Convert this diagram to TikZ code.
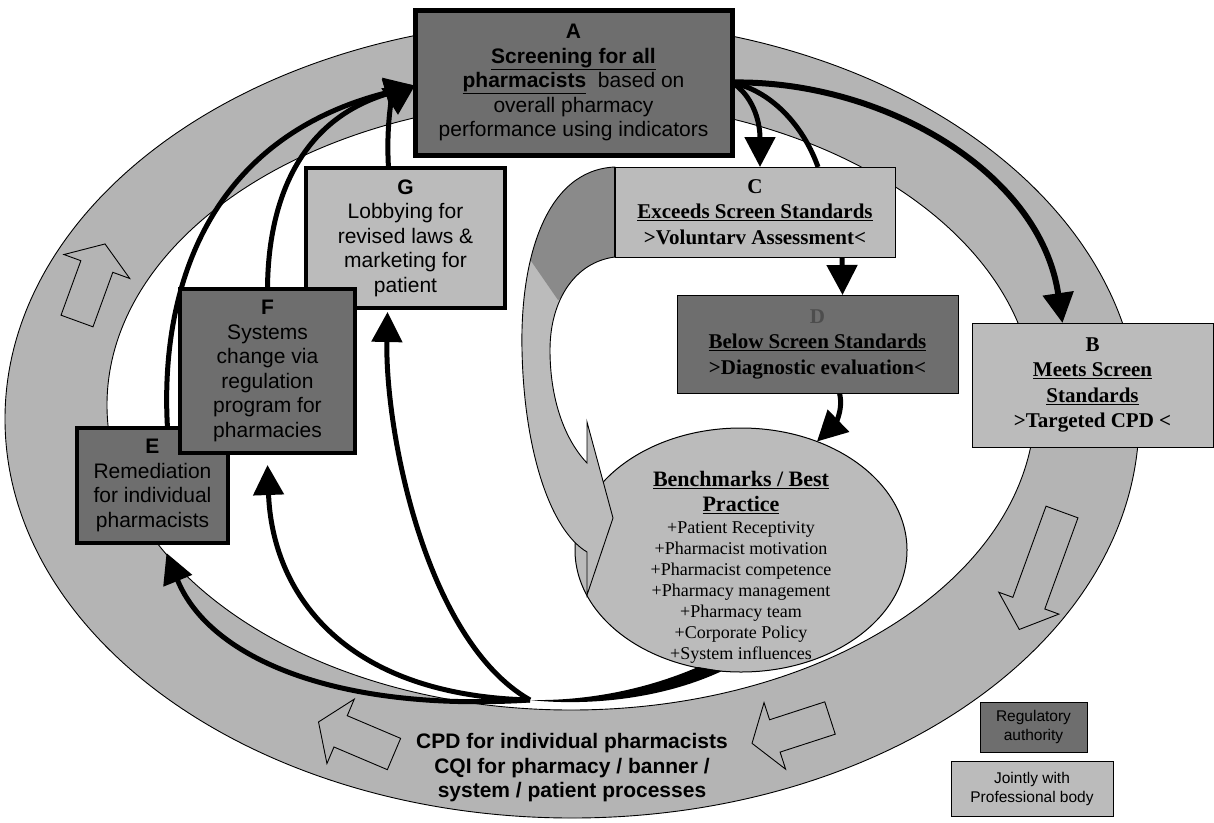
\documentclass[tikz,border=0pt]{standalone}
\usepackage{fontspec}
\setmainfont{Liberation Sans}
\newfontfamily\srf{Liberation Serif}
\usetikzlibrary{arrows.meta,calc,shapes.geometric}
\definecolor{ringgray}{HTML}{B4B4B4}
\definecolor{lightbox}{HTML}{BBBBBB}
\definecolor{darkbox}{HTML}{6E6E6E}
\definecolor{curldark}{HTML}{8A8A8A}
\definecolor{dletter}{HTML}{4D4D4D}
\newcommand\curlpath{(615,167) .. controls (545,170) and (520,260) .. (522,350) .. controls (524,450) and (550,530) .. (587,552) -- (587,595) -- (613,518) -- (587,422) -- (587,463) .. controls (565,440) and (550,400) .. (550,350) .. controls (550,300) and (575,262) .. (615,257) -- cycle}
\begin{document}
\begin{tikzpicture}[x=1pt,y=-1pt,
 every node/.style={inner sep=0pt, outer sep=0pt},
 darkb/.style={draw=black, fill=darkbox, rectangle, align=center},
 lightb/.style={draw=black, fill=lightbox, rectangle, align=center},
 sansbox/.style={font=\fontsize{21}{24.5}\selectfont},
 serifbox/.style={font=\srf\bfseries\fontsize{21}{25.5}\selectfont},
 conn/.style={line width=5pt, -{Triangle[length=30pt,width=30pt]}},
 plainline/.style={line width=5pt},
 ringarrow/.style={draw=black, line width=0.9pt, line join=miter},
 abox/.style={rectangle, line width=5pt, minimum width=317pt, minimum height=145pt}
]
\useasboundingbox (0,0) rectangle (1214,822);

% ring
\fill[ringgray, even odd rule] (572,419) ellipse [x radius=567pt, y radius=399pt] (571,405) ellipse [x radius=464pt, y radius=305pt];
\draw[line width=0.9pt] (572,419) ellipse [x radius=567pt, y radius=399pt];
\draw[line width=0.9pt] (571,405) ellipse [x radius=464pt, y radius=305pt];

% hollow arrows in the ring
\begin{scope}[shift={(77,321)}, rotate=70]
\draw[ringarrow] (0,-17) -- (58,-17) -- (58,-35) -- (82,0) -- (58,35) -- (58,17) -- (0,17) -- cycle;
\end{scope}
\begin{scope}[shift={(1062,512)}, rotate=-110]
\draw[ringarrow] (0,-17) -- (97,-17) -- (97,-32) -- (125,0) -- (97,32) -- (97,17) -- (0,17) -- cycle;
\end{scope}
\begin{scope}[shift={(394,754)}, rotate=157]
\draw[ringarrow] (0,-17) -- (58,-17) -- (58,-35) -- (82,0) -- (58,35) -- (58,17) -- (0,17) -- cycle;
\end{scope}
\begin{scope}[shift={(830,718)}, rotate=198]
\draw[ringarrow] (0,-17) -- (58,-17) -- (58,-35) -- (82,0) -- (58,35) -- (58,17) -- (0,17) -- cycle;
\end{scope}

% placement of A (box drawn later, on top of its connectors)
\path node[abox] (A) at (573.5,82.5) {};
\coordinate (J) at (530,700);

% benchmark ellipse
\node[ellipse, draw=black, line width=1pt, fill=lightbox, minimum width=332pt, minimum height=244pt] (bm) at (741,550) {};

% curved gray arrow from C
\fill[lightbox] \curlpath;
\begin{scope}
\clip \curlpath;
\fill[curldark] (500,150) -- (640,150) -- (640,258) -- (558,300) -- (520,245) -- cycle;
\end{scope}
\draw[line width=0.9pt, line join=miter] \curlpath;

% benchmark text
\node[align=center, font=\srf\fontsize{18}{21}\selectfont, anchor=north] (bmt) at (741,471)
 {{\bfseries\fontsize{22}{26}\selectfont\underline{Benchmarks / Best}}\\[4pt]
  {\bfseries\fontsize{22}{26}\selectfont\underline{Practice}}\\[1pt]
  +Patient Receptivity\\+Pharmacist motivation\\+Pharmacist competence\\+Pharmacy management\\+Pharmacy team\\+Corporate Policy\\+System influences};

% right boxes positions for connectors
\path node[rectangle, minimum width=280pt, minimum height=90pt] (C) at (755,212) {}
      node[rectangle, minimum width=281pt, minimum height=98pt] (D) at (817.5,344) {}
      node[rectangle, minimum width=241pt, minimum height=124pt] (B) at (1092.5,385) {};

% connectors (drawn under the boxes)
\draw[conn] (A.east) .. controls (752,95) and (760,120) .. ($(C.north)+(5,0)$);
\draw[plainline] ($(C.north)+(63,0)$) .. controls (805,130) and (775,92) .. (A.east);
\draw[conn, line width=6pt] (A.east) .. controls (880,80) and (1040,170) .. ($(B.north)+(-30,0)$);

\draw[conn] ($(C.south)+(87,0)$) -- ($(D.north)+(25,0)$);
\draw[conn] ($(D.south)+(22,0)$) .. controls (844,412) and (833,426) .. (bm.55);

\fill ($(bm.south)+(-43,-5)$) .. controls (640,692) and (580,701) .. (J) .. controls (585,706) and (660,700) .. ($(bm.south)+(-19,-1)$) -- cycle;

\path node[rectangle, minimum width=199pt, minimum height=140pt] (G) at (405.5,238) {}
      node[rectangle, minimum width=151pt, minimum height=115pt] (E) at (152.5,485.5) {}
      node[rectangle, minimum width=175pt, minimum height=164pt] (F) at (267.5,371) {};

\draw[conn] (J) .. controls (340,712) and (210,660) .. ($(E.south)+(14,10)$);
\draw[conn] (J) .. controls (340,695) and (272,590) .. ($(F.south)+(0,12)$);
\draw[conn] (J) .. controls (425,640) and (385,430) .. ($(G.south)+(-18,4)$);

\draw[conn] ($(E.north)+(15,0)$) .. controls (160,300) and (200,140) .. ($(A.west)+(0,3)$);
\draw[conn] (F.north) .. controls (268,200) and (300,120) .. ($(A.west)+(0,3)$);
\draw[conn] ($(G.north)+(-17,0)$) .. controls (386,125) and (392,100) .. ($(A.west)+(0,3)$);

% left boxes
\node[lightb, line width=3.5pt, minimum width=199pt, minimum height=140pt, sansbox] (G) at (405.5,238)
 {\textbf{G}\\Lobbying for\\revised laws \&\\marketing for\\patient};
\node[darkb, line width=3.5pt, minimum width=151pt, minimum height=115pt, sansbox] (E) at (152.5,485.5)
 {\textbf{E}\\Remediation\\for individual\\pharmacists};
\node[darkb, line width=3.5pt, minimum width=175pt, minimum height=164pt, sansbox] (F) at (267.5,371)
 {\textbf{F}\\Systems\\change via\\regulation\\program for\\pharmacies};

% A box
\node[darkb, abox, sansbox] (A) at (573.5,82.5)
   {\textbf{A}\\\textbf{\underline{Screening for all}}\\\textbf{\underline{pharmacists}}\ \ based on\\overall pharmacy\\performance using indicators};

% right boxes
\node[lightb, line width=1pt, minimum width=280pt, minimum height=90pt, serifbox] (C) at (755,212)
 {C\\\underline{Exceeds Screen Standards}\\>Voluntarv Assessment<};
\draw[line width=2.5pt] (C.north west) -- (C.south west);
\node[darkb, line width=1pt, minimum width=281pt, minimum height=98pt, serifbox] (D) at (817.5,344)
 {\textcolor{dletter}{D}\\\underline{Below Screen Standards}\\>Diagnostic evaluation<};
\node[lightb, line width=1pt, minimum width=241pt, minimum height=124pt, serifbox] (B) at (1092.5,385)
 {B\\\underline{Meets Screen}\\\underline{Standards}\\>Targeted CPD <};

% bottom text
\node[align=center, font=\bfseries\fontsize{21}{24.5}\selectfont] (cpd) at (572,768)
 {CPD for individual pharmacists\\CQI for pharmacy / banner /\\system / patient processes};

% legend
\node[darkb, line width=1pt, minimum width=107pt, minimum height=50pt, font=\fontsize{15.5}{18.5}\selectfont] (leg1) at (1033.5,727)
 {Regulatory\\authority};
\node[lightb, line width=1pt, minimum width=162pt, minimum height=55pt, font=\fontsize{15.5}{19}\selectfont] (leg2) at (1032,788.5)
 {Jointly with\\Professional body};
\end{tikzpicture}
\end{document}
